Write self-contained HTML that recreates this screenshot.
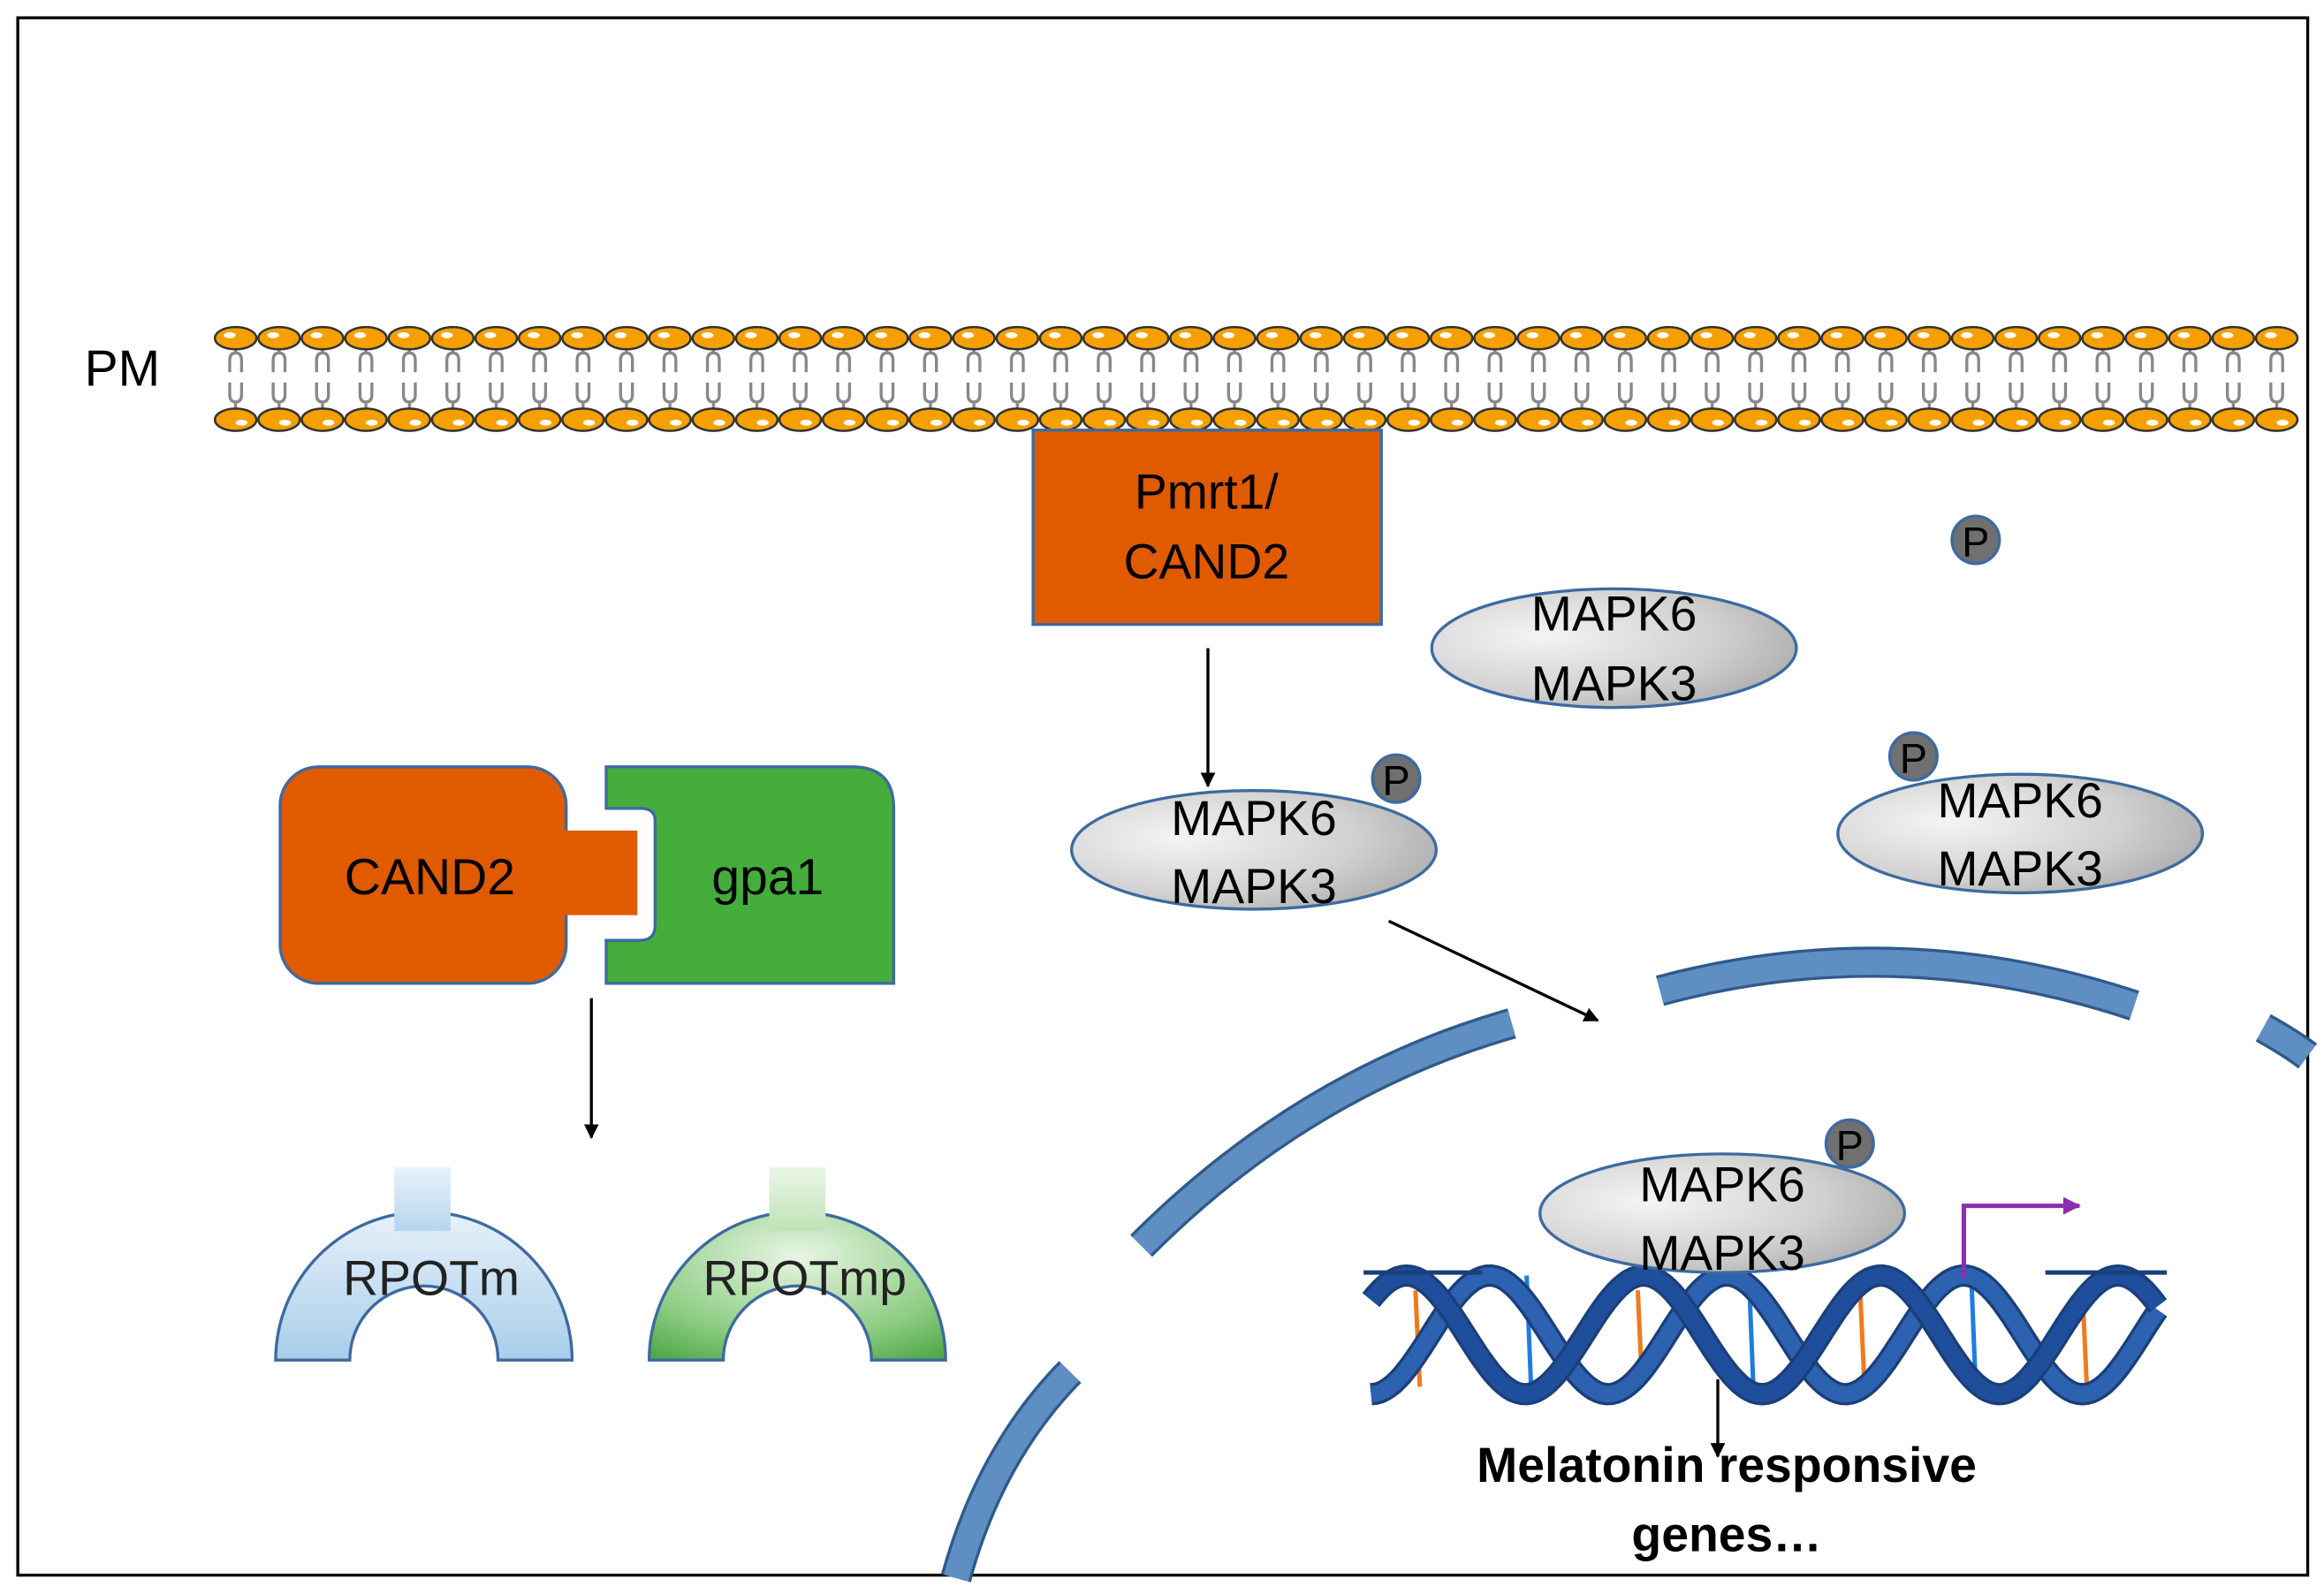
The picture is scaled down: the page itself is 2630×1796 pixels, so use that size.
<!DOCTYPE html>
<html><head><meta charset="utf-8">
<style>
html,body{margin:0;padding:0;background:#fff;}
svg{display:block;}
text{font-family:"Liberation Sans",sans-serif;}
</style></head>
<body>
<svg id="s" width="2630" height="1796" viewBox="0 0 1568 1070" preserveAspectRatio="none" xmlns="http://www.w3.org/2000/svg">
<defs>
<radialGradient id="gray" cx="0.3" cy="0.4" r="0.8">
<stop offset="0" stop-color="#f4f4f4"/><stop offset="0.6" stop-color="#d0d0d0"/><stop offset="1" stop-color="#a8a8a8"/>
</radialGradient>
<linearGradient id="blu" x1="0" y1="0" x2="0" y2="1"><stop offset="0" stop-color="#e6f1fa"/><stop offset="1" stop-color="#a9cdea"/></linearGradient>
<radialGradient id="grn" cx="0.5" cy="0.3" r="0.9"><stop offset="0" stop-color="#e8f5e4"/><stop offset="0.6" stop-color="#8fcd84"/><stop offset="1" stop-color="#3f9f3a"/></radialGradient>
<linearGradient id="bt" x1="0" y1="0" x2="0" y2="1"><stop offset="0" stop-color="#e8f2fa"/><stop offset="1" stop-color="#b6d5ee"/></linearGradient>
<linearGradient id="gt" x1="0" y1="0" x2="0" y2="1"><stop offset="0" stop-color="#eaf6e6"/><stop offset="1" stop-color="#bfe3b6"/></linearGradient>
<marker id="ar" markerWidth="10" markerHeight="10" refX="9" refY="5" orient="auto" markerUnits="userSpaceOnUse"><path d="M0,0 L10,5 L0,10 z" fill="#000"/></marker>
<marker id="ap" markerWidth="12" markerHeight="12" refX="11" refY="6" orient="auto" markerUnits="userSpaceOnUse"><path d="M0,0 L12,6 L0,12 z" fill="#8b2fb0"/></marker>
</defs>
<rect x="12" y="12" width="1545" height="1050" fill="#fff" stroke="#000" stroke-width="2"/>
<g id="mem"></g>
<text x="57" y="260" font-size="34" fill="#000">PM</text>

<!-- nuclear envelope -->
<g fill="none" stroke-linecap="butt">
<g stroke="#2f5a8a" stroke-width="21">
<path d="M1120,668 Q1280,625 1440,678"/><path d="M770,840 Q880,730 1020,690"/><path d="M645,1064 Q668,980 722,925"/><path d="M1527,693 Q1545,703 1557,712"/>
</g>
<g stroke="#5e8ec2" stroke-width="17">
<path d="M1120,668 Q1280,625 1440,678"/><path d="M770,840 Q880,730 1020,690"/><path d="M645,1064 Q668,980 722,925"/><path d="M1527,693 Q1545,703 1557,712"/>
</g>
</g>

<rect x="697" y="290" width="235" height="131" fill="#e05a00" stroke="#3d6aa0" stroke-width="2"/>
<text x="814" y="343" font-size="33" text-anchor="middle">Pmrt1/</text>
<text x="814" y="390" font-size="33" text-anchor="middle">CAND2</text>
<line x1="815" y1="437" x2="815" y2="530" stroke="#000" stroke-width="2" marker-end="url(#ar)"/>

<ellipse cx="1089" cy="437" rx="123" ry="40" fill="url(#gray)" stroke="#3d6aa0" stroke-width="2"/>
<text x="1089" y="425" font-size="33" text-anchor="middle">MAPK6</text>
<text x="1089" y="472" font-size="33" text-anchor="middle">MAPK3</text>
<circle cx="1333" cy="364" r="16" fill="#707070" stroke="#3d6aa0" stroke-width="2"/><text x="1333" y="375" font-size="28" text-anchor="middle">P</text>

<ellipse cx="846" cy="573" rx="123" ry="40" fill="url(#gray)" stroke="#3d6aa0" stroke-width="2"/>
<text x="846" y="563" font-size="33" text-anchor="middle">MAPK6</text>
<text x="846" y="609" font-size="33" text-anchor="middle">MAPK3</text>
<circle cx="942" cy="525" r="16" fill="#707070" stroke="#3d6aa0" stroke-width="2"/><text x="942" y="536" font-size="28" text-anchor="middle">P</text>

<ellipse cx="1363" cy="562" rx="123" ry="40" fill="url(#gray)" stroke="#3d6aa0" stroke-width="2"/>
<text x="1363" y="551" font-size="33" text-anchor="middle">MAPK6</text>
<text x="1363" y="597" font-size="33" text-anchor="middle">MAPK3</text>
<circle cx="1291" cy="510" r="16" fill="#707070" stroke="#3d6aa0" stroke-width="2"/><text x="1291" y="521" font-size="28" text-anchor="middle">P</text>

<line x1="937" y1="621" x2="1078" y2="688" stroke="#000" stroke-width="2" marker-end="url(#ar)"/>

<!-- CAND2 / gpa1 -->
<path d="M409,517 H575 Q603,517 603,545 V663 H409 V634 H432 Q442,634 442,624 V553 Q442,545 432,545 H409 Z" fill="#44ad3c" stroke="#3d6aa0" stroke-width="2"/>
<rect x="189" y="517" width="193" height="146" rx="26" fill="#e05a00" stroke="#3d6aa0" stroke-width="2"/>
<rect x="380" y="560" width="50" height="57" fill="#e05a00"/>
<text x="290" y="603" font-size="34" text-anchor="middle">CAND2</text>
<text x="518" y="603" font-size="34" text-anchor="middle">gpa1</text>
<line x1="399" y1="673" x2="399" y2="767" stroke="#000" stroke-width="2" marker-end="url(#ar)"/>

<!-- RPOT -->
<path d="M186,917 A100,100 0 0 1 386,917 H336 A50,50 0 0 0 236,917 Z" fill="url(#blu)" stroke="#3d6aa0" stroke-width="2"/>
<rect x="266" y="787" width="38" height="43" fill="url(#bt)"/>
<text x="291" y="873" font-size="33" text-anchor="middle" fill="#222">RPOTm</text>
<path d="M438,917 A100,100 0 0 1 638,917 H588 A50,50 0 0 0 488,917 Z" fill="url(#grn)" stroke="#3d6aa0" stroke-width="2"/>
<rect x="519" y="787" width="38" height="43" fill="url(#gt)"/>
<text x="543" y="873" font-size="33" text-anchor="middle" fill="#222">RPOTmp</text>

<!-- DNA -->
<g id="dna"></g>

<ellipse cx="1162" cy="818" rx="123" ry="40" fill="url(#gray)" stroke="#3d6aa0" stroke-width="2"/>
<text x="1162" y="810" font-size="33" text-anchor="middle">MAPK6</text>
<text x="1162" y="856" font-size="33" text-anchor="middle">MAPK3</text>
<circle cx="1248" cy="771" r="16" fill="#707070" stroke="#3d6aa0" stroke-width="2"/><text x="1248" y="782" font-size="28" text-anchor="middle">P</text>

<polyline points="1325,862 1325,813 1403,813" fill="none" stroke="#8b2fb0" stroke-width="3" marker-end="url(#ap)"/>
<line x1="1159" y1="930" x2="1159" y2="982" stroke="#000" stroke-width="2" marker-end="url(#ar)"/>
<text x="1165" y="999" font-size="33" font-weight="bold" text-anchor="middle">Melatonin responsive</text>
<text x="1165" y="1046" font-size="33" font-weight="bold" text-anchor="middle">genes…</text>
</svg>
<script>
var NS="http://www.w3.org/2000/svg";
function el(p,t,a){var e=document.createElementNS(NS,t);for(var k in a)e.setAttribute(k,a[k]);p.appendChild(e);return e;}
var m=document.getElementById("mem");
for(var i=0;i<48;i++){var x=159+i*29.3;
 el(m,"path",{d:"M"+(x-4)+",251 V243 Q"+(x-4)+",238 "+x+",238 Q"+(x+4)+",238 "+(x+4)+",243 V251 M"+(x-4)+",258 V266 Q"+(x-4)+",271 "+x+",271 Q"+(x+4)+",271 "+(x+4)+",266 V258 M"+x+",238 V234 M"+x+",271 V276",fill:"none",stroke:"#888",'stroke-width':2});
 el(m,"ellipse",{cx:x,cy:228,rx:14,ry:7.5,fill:"#f5a000",stroke:"#333",'stroke-width':1.5});
 el(m,"ellipse",{cx:x-4,cy:226,rx:4,ry:2,fill:"#fff"});
 el(m,"ellipse",{cx:x,cy:283,rx:14,ry:7.5,fill:"#f5a000",stroke:"#333",'stroke-width':1.5});
 el(m,"ellipse",{cx:x+4,cy:285,rx:4,ry:2,fill:"#fff"});
}
var d=document.getElementById("dna");
var x0=925,x1=1458,cy=900,A=40,L=160;
for(var j=0;j<7;j++){var bx=955+j*75;var c=j%2?"#1f7de0":"#f07a20";el(d,"line",{x1:bx,y1:870+(j%2?-10:0),x2:bx+3,y2:935,stroke:c,'stroke-width':3});}
function strand(ph,col){var s="";for(var x=x0;x<=x1;x+=3){var y=cy+A*Math.cos((x-x0)/L*2*Math.PI+ph);s+=(x==x0?"M":"L")+x+","+y.toFixed(1);}
 el(d,"path",{d:s,fill:"none",stroke:"#1a3f7a",'stroke-width':15});el(d,"path",{d:s,fill:"none",stroke:col,'stroke-width':11});}
strand(0,"#2d62b0");strand(2.2,"#1f4f9c");
el(d,"line",{x1:920,y1:858,x2:1000,y2:858,stroke:"#1a3f7a",'stroke-width':3});
el(d,"line",{x1:1380,y1:858,x2:1462,y2:858,stroke:"#1a3f7a",'stroke-width':3});
</script>
</body></html>
